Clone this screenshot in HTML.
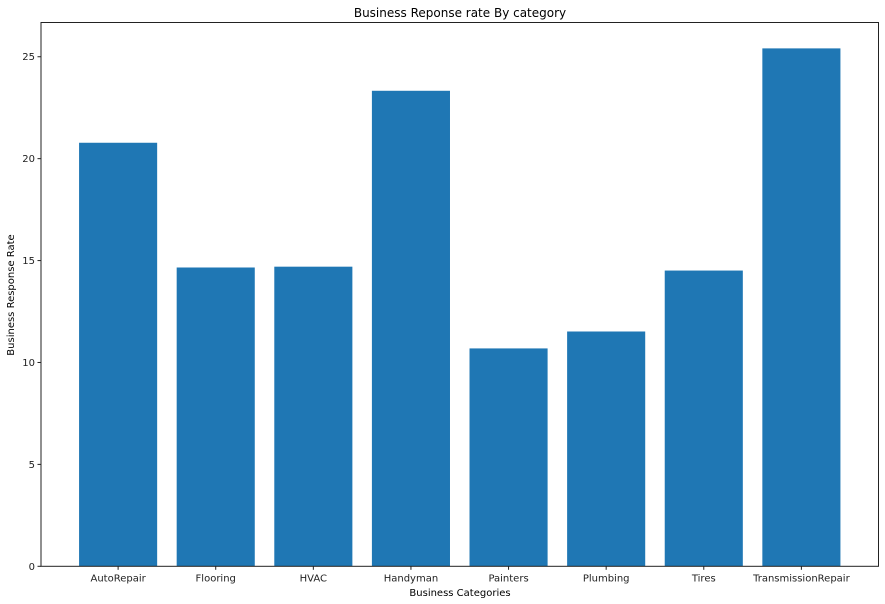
<!DOCTYPE html>
<html><head><meta charset="utf-8"><style>
body{margin:0;background:#fff;}
svg{display:block;font-family:"DejaVu Sans","Liberation Sans",sans-serif;}
</style></head><body>
<svg id="chart" width="885" height="604">
<rect x="0" y="0" width="885" height="604" fill="#fff"/>
<text x="460" y="17" text-anchor="middle" font-size="12" fill="#000">Business Reponse rate By category</text>
<text x="460" y="596" text-anchor="middle" font-size="10" fill="#000">Business Categories</text>
<text transform="translate(14,295) rotate(-90)" text-anchor="middle" font-size="10" fill="#000">Business Response Rate</text>
<g id="bars"></g><g id="ticks"></g>
<rect x="41" y="22.5" width="837.5" height="543.8" fill="none" stroke="#222" stroke-width="1"/>
</svg>
<script>
const categories=["AutoRepair","Flooring","HVAC","Handyman","Painters","Plumbing","Tires","TransmissionRepair"];
const values=[20.78,14.66,14.7,23.33,10.69,11.52,14.51,25.41];
const yTicks=[0,5,10,15,20,25];
const NS="http://www.w3.org/2000/svg";
const L=41,R=878.5,T=22.5,B=566.3;
const xMin=-0.79,xMax=categories.length-1+0.79,yMax=26.68;
const xs=i=>L+(i-xMin)/(xMax-xMin)*(R-L);
const ys=v=>B-v/yMax*(B-T);
const bw=0.8*(R-L)/(xMax-xMin);
const bars=document.getElementById('bars'),ticks=document.getElementById('ticks');
function mk(t,a,p){const e=document.createElementNS(NS,t);for(const k in a)e.setAttribute(k,a[k]);p.appendChild(e);return e;}
values.forEach((v,i)=>{
 const r=mk('rect',{x:xs(i)-bw/2,y:ys(v),width:bw,height:B-ys(v),fill:'#1f77b4'},bars);
 
 
 const l=mk('line',{x1:xs(i),x2:xs(i),y1:B,y2:B+3.5,stroke:'#222'},ticks);
 
 
 const t=mk('text',{x:xs(i),y:B+15,'text-anchor':'middle','font-size':10,fill:'#222'},ticks);
 t.textContent=categories[i];
 
 
});
yTicks.forEach(v=>{
 const l=mk('line',{x1:L-3.5,x2:L,y1:ys(v),y2:ys(v),stroke:'#222'},ticks);
 
 
 const t=mk('text',{x:L-6,y:ys(v)+3.5,'text-anchor':'end','font-size':10,fill:'#222'},ticks);
 t.textContent=v;
 
 
});
</script>
</body></html>
